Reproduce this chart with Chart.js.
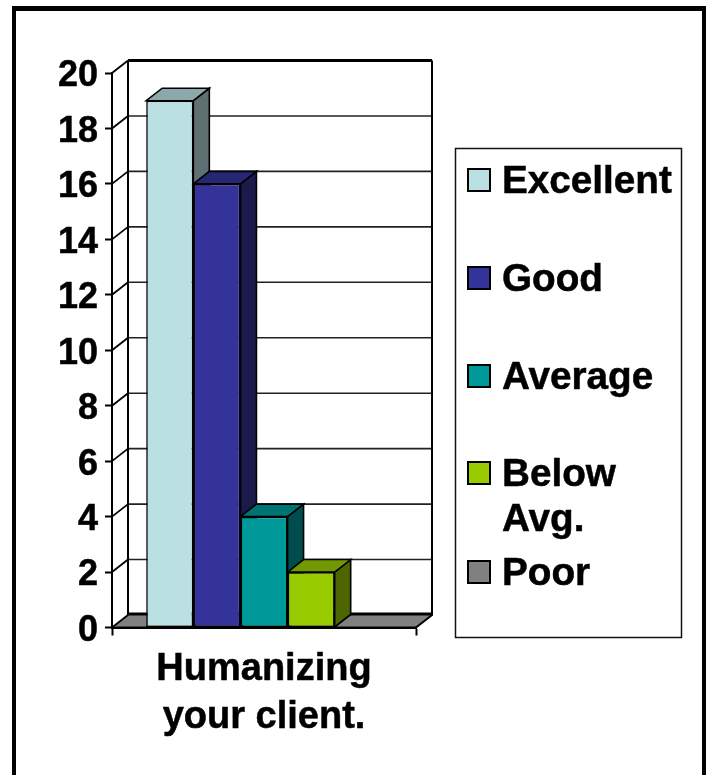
<!DOCTYPE html>
<html><head><meta charset="utf-8">
<style>html,body{margin:0;padding:0;background:#fff}canvas{display:block}#w{width:710px;height:775px;position:relative}</style>
<script src="https://cdn.jsdelivr.net/npm/chart.js@4/dist/chart.umd.min.js"></script>
</head><body><div id="w"><canvas id="c" width="710" height="775"></canvas></div>
<script>
const categories = [["Humanizing","your client."]];
const seriesNames = ["Excellent","Good","Average","Below Avg.","Poor"];
const legendLines = [["Excellent"],["Good"],["Average"],["Below","Avg."],["Poor"]];
const excellentValues = [19];
const goodValues = [16];
const averageValues = [4];
const belowAvgValues = [2];
const poorValues = [0];
const frontColors = ["#bbe0e3","#333399","#009999","#99cc00","#808080"];
const topColors = ["#8ca8aa","#262673","#007373","#739900","#606060"];
const sideColors = ["#5e7072","#1a1a4d","#004d4d","#4d6600","#404040"];
const seriesValues = [excellentValues,goodValues,averageValues,belowAvgValues,poorValues];
const DX=16, DY=12.5, INK="#000", FONT="'Liberation Sans', Arial, sans-serif";

function poly(ctx,pts,fill,stroke,lw){
  ctx.beginPath();pts.forEach((p,i)=>i?ctx.lineTo(p[0],p[1]):ctx.moveTo(p[0],p[1]));ctx.closePath();
  if(fill){ctx.fillStyle=fill;ctx.fill();}
  if(stroke){ctx.strokeStyle=stroke;ctx.lineWidth=lw;ctx.lineJoin="miter";ctx.stroke();}
}
function nudgeLabels(s,dy){
  if(s._nudged)return;s._nudged=true;
  const f=s._computeLabelItems;
  s._computeLabelItems=function(a){const items=f.call(this,a);items.forEach(i=>{i.options.translation[1]+=dy;});return items;};
}
const frame={id:"frame",beforeDraw(ch){
  const c=ch.ctx;c.save();c.fillStyle="#fff";c.fillRect(0,0,710,775);
  c.strokeStyle=INK;c.lineWidth=4;c.strokeRect(14,8.5,690,800);
  c.fillStyle=INK;c.fillRect(12,6,694,5);c.restore();
}};
const walls={id:"walls",beforeDatasetsDraw(ch){
  const c=ch.ctx,a=ch.chartArea,y=ch.scales.y;c.save();
  const zero=y.getPixelForValue(0);
  poly(c,[[a.left,zero],[a.left+DX,zero-DY],[a.right+DX,zero-DY],[a.right,zero]],"#808080");
  y.ticks.forEach(t=>{
    const p=y.getPixelForValue(t.value);
    const top=t.value===20,bot=t.value===0;
    c.strokeStyle=(top||bot)?INK:"#222";c.lineWidth=(top||bot)?3:1.6;
    const yy=bot?p-DY-1:p-DY;
    c.beginPath();c.moveTo(a.left+DX,yy);c.lineTo(a.right+DX,yy);c.stroke();
    c.strokeStyle=INK;c.lineWidth=1.8;
    c.beginPath();c.moveTo(a.left,p);c.lineTo(a.left+DX,p-DY);c.stroke();
  });
  c.strokeStyle=INK;c.lineWidth=2;
  c.beginPath();c.moveTo(a.left+DX,a.top-DY);c.lineTo(a.left+DX,zero-DY);c.stroke();
  c.beginPath();c.moveTo(a.right+DX,a.top-DY);c.lineTo(a.right+DX,zero-DY);c.lineTo(a.right,zero);c.stroke();
  ch.data.datasets.forEach((d,i)=>{
    const b=ch.getDatasetMeta(i).data[0];
    const l=b.x-b.width/2,r=b.x+b.width/2,t=b.y,bt=b.base;
    if(d.data[0]>0){
      poly(c,[[r,t],[r+DX,t-DY],[r+DX,bt-DY],[r,bt]],sideColors[i],INK,1.6);
      poly(c,[[l,t],[l+DX,t-DY],[r+DX,t-DY],[r,t]],topColors[i],INK,1.6);
    }
  });
  c.restore();
},afterDatasetsDraw(ch){
  const c=ch.ctx,a=ch.chartArea,y=ch.scales.y;c.save();
  c.strokeStyle=INK;c.lineWidth=2;
  c.beginPath();c.moveTo(a.left,y.getPixelForValue(0));c.lineTo(a.right,y.getPixelForValue(0));c.stroke();
  c.restore();
}};
const box={id:"box",afterDraw(ch){
  const c=ch.ctx;c.save();
  c.strokeStyle="#111";c.lineWidth=1.5;c.strokeRect(455.5,148.5,226,489);
  const rows=[180,278,376,473,572];
  c.font="bold 38.7px "+FONT;c.textBaseline="alphabetic";c.textAlign="left";
  legendLines.forEach((lines,i)=>{
    c.fillStyle=frontColors[i];c.fillRect(468,rows[i]-11,22,22);
    c.strokeStyle=INK;c.lineWidth=2;c.strokeRect(468,rows[i]-11,22,22);
    c.fillStyle=INK;c.strokeStyle=INK;c.lineWidth=0.5;
    lines.forEach((s,j)=>{c.fillText(s,502,rows[i]+13+j*45);c.strokeText(s,502,rows[i]+13+j*45);});
  });
  c.restore();
}};
new Chart(document.getElementById("c"),{
  type:"bar",
  data:{labels:categories,datasets:seriesNames.map((n,i)=>({label:n,data:seriesValues[i],backgroundColor:frontColors[i],borderColor:INK,borderWidth:1.6,borderSkipped:false,categoryPercentage:0.775,barPercentage:1}))},
  options:{
    responsive:false,animation:false,
    layout:{padding:{left:0,right:294,top:73,bottom:0}},
    plugins:{legend:{display:false},tooltip:{enabled:false},title:{display:false}},
    scales:{
      x:{
        afterFit(s){s.height=147.5;},
        afterUpdate(s){nudgeLabels(s,0);},
        grid:{drawOnChartArea:false,drawTicks:true,tickLength:8,tickColor:INK,tickWidth:2},
        border:{display:true,color:INK,width:2},
        ticks:{color:INK,padding:10,maxRotation:0,textStrokeColor:INK,textStrokeWidth:0.5,font:{family:FONT,weight:"bold",size:38,lineHeight:"48px"}}
      },
      y:{
        min:0,max:20,
        afterFit(s){s.width=112;},
        afterUpdate(s){nudgeLabels(s,3.5);},
        grid:{drawOnChartArea:false,drawTicks:true,tickLength:7,tickColor:INK,tickWidth:2},
        border:{display:true,color:INK,width:2},
        ticks:{stepSize:2,color:INK,padding:7,textStrokeColor:INK,textStrokeWidth:0.5,font:{family:FONT,weight:"bold",size:36}}
      }
    }
  },
  plugins:[frame,walls,box]
});
</script></body></html>
